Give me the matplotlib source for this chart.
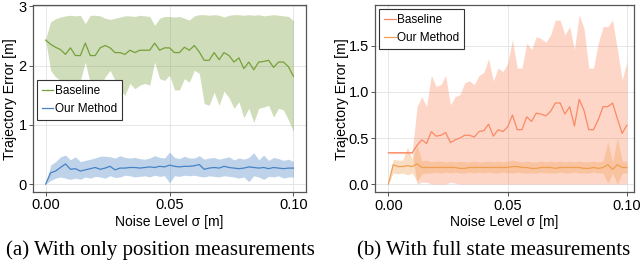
import numpy as np
import matplotlib
matplotlib.use("Agg")
from matplotlib import pyplot as plt

plt.rcParams["font.family"] = ["Liberation Sans", "DejaVu Sans"]

# noise levels 0.000 .. 0.100
noise = np.linspace(0.0, 0.1, 51)

# (a) position measurements only
pos_base_mean = [2.43, 2.36, 2.31, 2.27, 2.19, 2.30, 2.17, 2.17, 2.38, 2.17,
                 2.17, 2.30, 2.34, 2.30, 2.22, 2.22, 2.19, 2.26, 2.22, 2.26,
                 2.26, 2.26, 2.38, 2.26, 2.30, 2.30, 2.22, 2.22, 2.31, 2.26,
                 2.34, 2.23, 2.09, 2.09, 2.22, 2.10, 2.22, 2.17, 2.06, 2.13,
                 1.95, 2.06, 1.93, 2.06, 2.07, 2.09, 1.97, 2.06, 2.06, 1.98, 1.82]
pos_base_low = [2.43, 1.92, 1.81, 1.75, 1.72, 1.75, 1.67, 1.75, 2.06, 1.70,
                1.56, 1.64, 1.81, 1.92, 1.75, 1.59, 1.50, 1.70, 1.61, 1.67,
                1.70, 1.67, 2.06, 1.78, 1.75, 1.84, 1.59, 1.59, 1.78, 1.72,
                1.92, 1.87, 1.36, 1.33, 1.55, 1.33, 1.57, 1.46, 1.28, 1.39,
                1.12, 1.28, 1.04, 1.28, 1.30, 1.33, 1.13, 1.28, 1.25, 1.08, 0.89]
pos_base_high = [2.45, 2.74, 2.79, 2.82, 2.84, 2.85, 2.84, 2.85, 2.71, 2.85,
                 2.85, 2.84, 2.80, 2.78, 2.80, 2.82, 2.84, 2.84, 2.83, 2.85,
                 2.84, 2.83, 2.68, 2.80, 2.83, 2.83, 2.82, 2.83, 2.80, 2.77,
                 2.84, 2.86, 2.86, 2.85, 2.86, 2.85, 2.82, 2.85, 2.86, 2.86,
                 2.85, 2.86, 2.85, 2.86, 2.84, 2.85, 2.86, 2.85, 2.84, 2.83, 2.76]

pos_ours_mean = [0.00, 0.19, 0.22, 0.28, 0.34, 0.25, 0.26, 0.22, 0.24, 0.26,
                 0.28, 0.25, 0.27, 0.30, 0.24, 0.27, 0.27, 0.28, 0.28, 0.27,
                 0.28, 0.29, 0.28, 0.30, 0.29, 0.32, 0.30, 0.29, 0.30, 0.30,
                 0.31, 0.33, 0.25, 0.27, 0.28, 0.27, 0.30, 0.28, 0.27, 0.26,
                 0.27, 0.29, 0.28, 0.27, 0.28, 0.26, 0.28, 0.27, 0.26, 0.27, 0.27]
pos_ours_low = [0.00, 0.06, 0.10, 0.12, 0.10, 0.08, 0.10, 0.08, 0.12, 0.10,
                0.13, 0.12, 0.10, 0.14, 0.11, 0.12, 0.15, 0.14, 0.12, 0.13,
                0.14, 0.12, 0.15, 0.13, 0.14, 0.02, 0.14, 0.13, 0.15, 0.14,
                0.15, 0.13, 0.12, 0.14, 0.13, 0.12, 0.14, 0.13, 0.12, 0.10,
                0.12, 0.04, 0.14, 0.12, 0.08, 0.13, 0.12, 0.14, 0.10, 0.12, 0.12]
pos_ours_high = [0.00, 0.32, 0.38, 0.46, 0.49, 0.41, 0.46, 0.38, 0.40, 0.42,
                 0.44, 0.47, 0.47, 0.46, 0.44, 0.48, 0.45, 0.44, 0.45, 0.43,
                 0.42, 0.44, 0.48, 0.45, 0.44, 0.54, 0.45, 0.43, 0.47, 0.44,
                 0.44, 0.48, 0.42, 0.44, 0.45, 0.42, 0.44, 0.46, 0.41, 0.44,
                 0.42, 0.45, 0.53, 0.41, 0.49, 0.40, 0.45, 0.43, 0.40, 0.42, 0.38]

# (b) full state measurements
full_base_mean = [0.34, 0.34, 0.34, 0.34, 0.34, 0.34, 0.42, 0.48, 0.44, 0.57,
                  0.52, 0.53, 0.56, 0.45, 0.48, 0.50, 0.53, 0.53, 0.51, 0.57,
                  0.58, 0.65, 0.52, 0.59, 0.57, 0.62, 0.75, 0.59, 0.59, 0.73,
                  0.68, 0.77, 0.76, 0.74, 0.79, 0.88, 0.88, 0.76, 0.84, 0.63,
                  0.92, 0.80, 0.59, 0.59, 0.70, 0.84, 0.84, 0.88, 0.71, 0.55, 0.64]
full_base_low = [0.33, 0.33, 0.33, 0.33, 0.33, 0.33, 0.00, 0.02, 0.02, 0.00,
                 0.00, 0.00, 0.00, 0.02, 0.01, 0.00, 0.00, 0.00, 0.00, 0.00,
                 0.00, 0.00, 0.00, 0.00, 0.00, 0.00, 0.00, 0.00, 0.00, 0.00,
                 0.00, 0.00, 0.00, 0.00, 0.00, 0.00, 0.00, 0.00, 0.00, 0.00,
                 0.00, 0.00, 0.00, 0.00, 0.00, 0.00, 0.00, 0.00, 0.00, 0.00, 0.00]
full_base_high = [0.35, 0.35, 0.35, 0.35, 0.35, 0.35, 0.84, 0.95, 0.84, 1.18,
                  1.06, 1.08, 1.18, 0.86, 0.95, 0.97, 1.10, 1.12, 1.08, 1.18,
                  1.21, 1.36, 1.12, 1.26, 1.22, 1.31, 1.57, 1.26, 1.26, 1.53,
                  1.46, 1.60, 1.58, 1.54, 1.62, 1.78, 1.78, 1.62, 1.71, 1.46,
                  1.84, 1.69, 1.26, 1.26, 1.53, 1.71, 1.71, 1.78, 1.46, 1.13, 1.33]

full_ours_mean = [0.00, 0.21, 0.19, 0.19, 0.20, 0.19, 0.22, 0.18, 0.18, 0.18,
                  0.18, 0.18, 0.18, 0.18, 0.18, 0.17, 0.17, 0.18, 0.18, 0.18,
                  0.18, 0.18, 0.18, 0.18, 0.18, 0.18, 0.19, 0.19, 0.18, 0.18,
                  0.17, 0.17, 0.18, 0.18, 0.18, 0.17, 0.18, 0.18, 0.18, 0.18,
                  0.18, 0.17, 0.17, 0.18, 0.17, 0.18, 0.21, 0.16, 0.21, 0.18, 0.18]
full_ours_low = [0.00, 0.12, 0.11, 0.12, 0.10, 0.12, 0.03, 0.11, 0.12, 0.12,
                 0.13, 0.12, 0.13, 0.12, 0.13, 0.12, 0.12, 0.13, 0.12, 0.13,
                 0.12, 0.13, 0.12, 0.12, 0.13, 0.12, 0.12, 0.13, 0.12, 0.12,
                 0.12, 0.12, 0.13, 0.12, 0.12, 0.12, 0.13, 0.12, 0.12, 0.13,
                 0.12, 0.12, 0.12, 0.13, 0.12, 0.12, 0.01, 0.12, 0.00, 0.12, 0.12]
full_ours_high = [0.00, 0.27, 0.26, 0.26, 0.40, 0.27, 0.42, 0.25, 0.26, 0.24,
                  0.25, 0.25, 0.24, 0.25, 0.24, 0.25, 0.24, 0.24, 0.25, 0.24,
                  0.24, 0.25, 0.24, 0.25, 0.24, 0.25, 0.26, 0.25, 0.24, 0.25,
                  0.24, 0.24, 0.25, 0.24, 0.25, 0.24, 0.25, 0.24, 0.25, 0.24,
                  0.25, 0.24, 0.24, 0.25, 0.24, 0.25, 0.46, 0.24, 0.50, 0.25, 0.25]

fig = plt.figure(figsize=(6.4, 2.74), dpi=100)
ax1 = fig.add_axes([0.0516, 0.299, 0.4266, 0.682])
ax2 = fig.add_axes([0.586, 0.298, 0.404, 0.683])


def style(ax, xlim, ylim, yticks, fmt, ylab_x):
    ax.set_xlim(*xlim)
    ax.set_ylim(*ylim)
    ax.set_xticks([0.0, 0.05, 0.1])
    ax.set_xticklabels(["0.00", "0.05", "0.10"])
    ax.set_yticks(yticks)
    ax.set_yticklabels([fmt.format(t) for t in yticks])
    ax.grid(True, color="#e2e2e2", linewidth=0.6)
    ax.set_axisbelow(True)
    for s in ax.spines.values():
        s.set_color("#555555")
        s.set_linewidth(0.9)
    ax.tick_params(direction="out", length=3, width=0.7, color="#555555",
                   labelsize=10.5, pad=1.5)
    ax.set_xlabel("Noise Level σ [m]", fontsize=10, labelpad=2)
    ax.set_ylabel("Trajectory Error [m]", fontsize=10.2)
    ax.yaxis.set_label_coords(ylab_x, 0.5)


def add_legend(ax, anchor):
    leg = ax.legend(loc="upper left", bbox_to_anchor=anchor, fontsize=8.5,
                    handlelength=1.0, handletextpad=0.15, borderpad=0.4,
                    labelspacing=0.55, fancybox=False, framealpha=1,
                    edgecolor="#333333", borderaxespad=0)
    leg.get_frame().set_linewidth(0.8)


# left panel
green = "#77a03a"
blue = "#4682c4"
ax1.fill_between(noise, pos_base_low, pos_base_high, color=green, alpha=0.35, lw=0)
ax1.plot(noise, pos_base_mean, color=green, lw=0.9, label="Baseline")
ax1.fill_between(noise, pos_ours_low, pos_ours_high, color=blue, alpha=0.35, lw=0)
ax1.plot(noise, pos_ours_mean, color=blue, lw=0.9, label="Our Method")
style(ax1, (-0.0051, 0.1051), (-0.135, 3.02), [0, 1, 2, 3], "{:d}", -0.058)
add_legend(ax1, (0.014, 0.6))

# right panel
salmon = "#fa8a64"
orange = "#f0a050"
ax2.fill_between(noise, full_base_low, full_base_high, color=salmon, alpha=0.35, lw=0)
ax2.plot(noise, full_base_mean, color=salmon, lw=0.9, label="Baseline")
ax2.fill_between(noise, full_ours_low, full_ours_high, color=orange, alpha=0.35, lw=0)
ax2.plot(noise, full_ours_mean, color=orange, lw=0.9, label="Our Method")
style(ax2, (-0.0056, 0.1028), (-0.09, 1.942), [0.0, 0.5, 1.0, 1.5], "{:.1f}", -0.102)
add_legend(ax2, (0.016, 0.98))

# sub-captions
fig.text(0.251, 0.086, "(a) With only position measurements", ha="center",
         va="center", fontsize=15, family=["Liberation Serif", "DejaVu Serif"])
fig.text(0.772, 0.086, "(b) With full state measurements", ha="center",
         va="center", fontsize=15, family=["Liberation Serif", "DejaVu Serif"])

fig.savefig("out.png", dpi=100, facecolor="white")
